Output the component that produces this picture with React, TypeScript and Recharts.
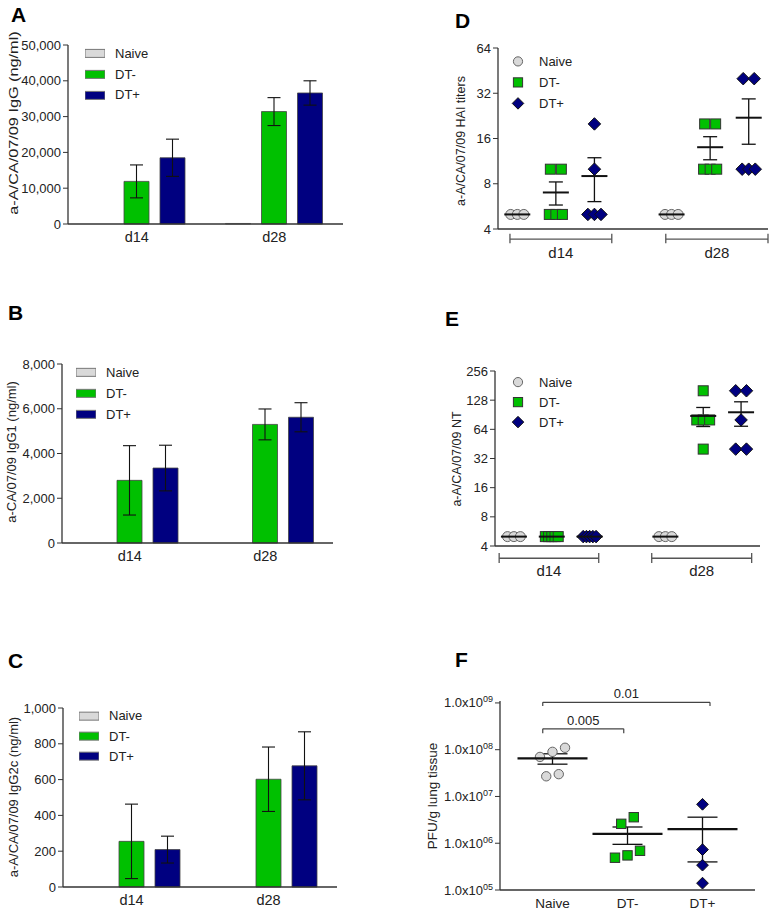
import React from 'react';
import {
  BarChart, Bar, ErrorBar, XAxis, YAxis, Legend,
  ScatterChart, Scatter, ReferenceLine,
} from 'recharts';

const FONT = '"Liberation Sans", Arial, Helvetica, sans-serif';
const INK = '#222';
const AXIS = '#333';
const GREY = '#D9D9D9';
const GREEN = '#00C000';
const NAVY = '#000080';

// ---- shared categories ----
const days = ['d14', 'd28'];
const groupNames = ['Naive', 'DT-', 'DT+'];

// ---- A: anti-A/CA/07/09 IgG (ng/ml), mean and SEM per day ----
const iggNaive = [0, 150];
const iggDTneg = [11900, 31400];
const iggDTnegSem = [4600, 3900];
const iggDTpos = [18500, 36600];
const iggDTposSem = [5200, 3400];
const iggTicks = [0, 10000, 20000, 30000, 40000, 50000];

// ---- B: IgG1 ----
const igg1Naive = [0, 0];
const igg1DTneg = [2800, 5300];
const igg1DTnegSem = [1550, 690];
const igg1DTpos = [3350, 5620];
const igg1DTposSem = [1020, 650];
const igg1Ticks = [0, 2000, 4000, 6000, 8000];

// ---- C: IgG2c ----
const igg2cNaive = [0, 0];
const igg2cDTneg = [255, 602];
const igg2cDTnegSem = [208, 180];
const igg2cDTpos = [209, 677];
const igg2cDTposSem = [75, 190];
const igg2cTicks = [0, 200, 400, 600, 800, 1000];

// ---- D: HAI titers, one value per mouse ----
const haiNaiveD14 = [5, 5, 5];
const haiNaiveD28 = [5, 5, 5];
const haiDTnegD14 = [10, 10, 5, 5, 5];
const haiDTnegD28 = [20, 20, 10, 10, 10];
const haiDTposD14 = [20, 10, 5, 5, 5];
const haiDTposD28 = [40, 40, 10, 10, 10];
const haiTicks = [4, 8, 16, 32, 64];

// ---- E: neutralising titers ----
const ntNaiveD14 = [5, 5, 5];
const ntNaiveD28 = [5, 5, 5];
const ntDTnegD14 = [5, 5, 5, 5, 5];
const ntDTnegD28 = [160, 80, 80, 80, 40];
const ntDTposD14 = [5, 5, 5, 5, 5];
const ntDTposD28 = [160, 160, 80, 40, 40];
const ntTicks = [4, 8, 16, 32, 64, 128, 256];

// ---- F: lung virus, PFU/g ----
const pfuNaive = [9.0e7, 7.0e7, 1.1e8, 2.7e7, 3.0e7];
const pfuDTneg = [3.6e6, 2.6e6, 6.9e5, 4.9e5, 5.5e5];
const pfuDTpos = [6.8e6, 7.3e5, 3.4e5, 1.4e5];
const pfuTicks = [1e5, 1e6, 1e7, 1e8, 1e9];
const pValues = ['0.005', '0.01'];

type Kind = 'swatch' | 'circle' | 'square' | 'diamond';
const fills = [GREY, GREEN, NAVY];
const strokes = ['#666', '#333', '#111'];
const dotKinds: Kind[] = ['circle', 'square', 'diamond'];

const axisLine = { stroke: AXIS, strokeWidth: 1.3 };
const tickText = { fontSize: 13, fill: INK };

const mean = (v: number[]) => v.reduce((a, b) => a + b, 0) / v.length;
const sem = (v: number[]) => {
  const m = mean(v);
  const sd = Math.sqrt(v.reduce((a, b) => a + (b - m) ** 2, 0) / (v.length - 1));
  return sd / Math.sqrt(v.length);
};
const thousands = (v: number) => v.toLocaleString('en-US');

// dot-plot layout: values that sit (nearly) on top of each other are pushed sideways
function spread(values: number[], center: number, step: number, span: number, tol: number) {
  const order = values.map((_, i) => i).sort((a, b) => values[a] - values[b]);
  const out: { x: number; y: number }[] = new Array(values.length);
  let cluster: number[] = [];
  const flush = () => {
    const n = cluster.length;
    const s = n > 1 ? Math.min(step, span / (n - 1)) : 0;
    cluster.forEach((i, k) => { out[i] = { x: center + (k - (n - 1) / 2) * s, y: values[i] }; });
    cluster = [];
  };
  order.forEach(i => {
    if (cluster.length && Math.abs(Math.log(values[i] / values[cluster[cluster.length - 1]])) > tol) flush();
    cluster.push(i);
  });
  flush();
  return out;
}

function mark(kind: Kind, cx: number, cy: number, r: number, g: number) {
  const fill = fills[g];
  const stroke = strokes[g];
  if (kind === 'swatch') return <rect x={cx - 10} y={cy - 4} width={20} height={8} fill={fill} stroke="#777" strokeWidth={1} />;
  if (kind === 'circle') return <circle cx={cx} cy={cy} r={r} fill={fill} stroke={stroke} strokeWidth={1} />;
  if (kind === 'square') return <rect x={cx - r} y={cy - r} width={2 * r} height={2 * r} fill={fill} stroke={stroke} strokeWidth={1} />;
  const d = r * 1.25;
  return <path d={`M${cx},${cy - d}L${cx + d},${cy}L${cx},${cy + d}L${cx - d},${cy}Z`} fill={fill} stroke={stroke} strokeWidth={1} />;
}

const legendContent = (kind: (g: number) => Kind, markW: number, gap: number, rowH: number) => (props: any) => {
  const entries = (props.payload || [])
    .map((e: any) => ({ name: e.value, g: groupNames.indexOf(e.value) }))
    .filter((e: any) => e.g >= 0)
    .sort((a: any, b: any) => a.g - b.g);
  return (
    <div style={{ fontFamily: FONT }}>
      {entries.map((e: any) => (
        <div key={e.name} style={{ display: 'flex', alignItems: 'center', height: rowH }}>
          <svg width={markW} height={rowH} style={{ display: 'block' }}>{mark(kind(e.g), markW / 2, rowH / 2, 4.6, e.g)}</svg>
          <span style={{ marginLeft: gap, fontSize: 13, color: INK, lineHeight: 1 }}>{e.name}</span>
        </div>
      ))}
    </div>
  );
};

interface Margin { top: number; right: number; bottom: number; left: number }

interface BarPanelProps {
  width: number; height: number; margin: Margin; yWidth: number; xHeight: number;
  naive: number[]; dtNeg: number[]; dtNegSem: number[]; dtPos: number[]; dtPosSem: number[];
  ticks: number[]; legendTop: number; legendLeft: number; rowH: number;
}

const BarPanel: React.FC<BarPanelProps> = (p) => {
  const rows = days.map((day, i) => ({
    day, naive: p.naive[i], dtNeg: p.dtNeg[i], dtNegSem: p.dtNegSem[i], dtPos: p.dtPos[i], dtPosSem: p.dtPosSem[i],
  }));
  return (
    <BarChart width={p.width} height={p.height} data={rows} margin={p.margin} barSize={25} barGap={11}>
      <XAxis dataKey="day" height={p.xHeight} tickLine={false} axisLine={axisLine} tick={{ fontSize: 14.5, fill: INK }} />
      <YAxis width={p.yWidth} domain={[0, p.ticks[p.ticks.length - 1]]} ticks={p.ticks} interval={0}
        tickFormatter={thousands} tickSize={5} tickMargin={2} tick={tickText} tickLine={{ stroke: AXIS }} axisLine={axisLine} />
      <Legend layout="vertical" align="center" verticalAlign="middle"
        wrapperStyle={{ top: p.legendTop, left: p.legendLeft, width: 90 }}
        content={legendContent(() => 'swatch', 20, 10, p.rowH)} />
      <Bar dataKey="naive" name="Naive" fill={GREY} stroke="#777" strokeWidth={0.8} isAnimationActive={false} />
      <Bar dataKey="dtNeg" name="DT-" fill={GREEN} stroke="#444" strokeWidth={0.8} isAnimationActive={false}>
        <ErrorBar dataKey="dtNegSem" width={6.5} stroke="#111" strokeWidth={1.1} isAnimationActive={false} />
      </Bar>
      <Bar dataKey="dtPos" name="DT+" fill={NAVY} stroke="#444" strokeWidth={0.8} isAnimationActive={false}>
        <ErrorBar dataKey="dtPosSem" width={6.5} stroke="#111" strokeWidth={1.1} isAnimationActive={false} />
      </Bar>
    </BarChart>
  );
};

const slot = (d: number, g: number) => d * (groupNames.length + 1) + g + 1;

interface DayDotPanelProps {
  width: number; height: number; margin: Margin; yWidth: number;
  groups: number[][][]; ticks: number[];
  brackets: number[][]; bracketY: number[]; labelOffset: number;
  legendTop: number; legendLeft: number; rowH: number;
}

const DayDotPanel: React.FC<DayDotPanelProps> = (p) => {
  const series = groupNames.map((name, g) => ({
    name,
    points: days.flatMap((_, d) => spread(p.groups[g][d], slot(d, g), 0.285, 0.34, 0.01)),
  }));
  const means = groupNames.flatMap((_, g) => days.map((_, d) => ({
    x: slot(d, g), y: mean(p.groups[g][d]), sem: sem(p.groups[g][d]),
  })));
  const [lineY, capHi, capLo] = p.bracketY;
  const br = { stroke: '#555', strokeWidth: 1.3, ifOverflow: 'visible' as const };
  return (
    <ScatterChart width={p.width} height={p.height} margin={p.margin}>
      <XAxis type="number" dataKey="x" domain={[0.5, 7.5]} tick={false} tickLine={false} axisLine={axisLine} height={30} />
      <YAxis type="number" dataKey="y" scale="log" domain={[p.ticks[0], p.ticks[p.ticks.length - 1]]} ticks={p.ticks}
        interval={0} width={p.yWidth} tickSize={5} tickMargin={2} tick={tickText} tickLine={{ stroke: AXIS }} axisLine={axisLine} />
      <Legend layout="vertical" align="center" verticalAlign="middle"
        wrapperStyle={{ top: p.legendTop, left: p.legendLeft, width: 90 }}
        content={legendContent(g => dotKinds[g], 14, 14, p.rowH)} />
      {series.map((s, g) => (
        <Scatter key={s.name} name={s.name} data={s.points} fill={fills[g]} isAnimationActive={false}
          shape={(pt: any) => mark(dotKinds[g], pt.cx, pt.cy, 5, g)} />
      ))}
      <Scatter name="mean" legendType="none" data={means} fill="#111" isAnimationActive={false}
        shape={(pt: any) => <line x1={pt.cx - 13} x2={pt.cx + 13} y1={pt.cy} y2={pt.cy} stroke="#111" strokeWidth={2} />}>
        <ErrorBar dataKey="sem" direction="y" width={7} stroke="#111" strokeWidth={1.3} isAnimationActive={false} />
      </Scatter>
      {p.brackets.map(([x1, x2], d) => (
        <React.Fragment key={days[d]}>
          <ReferenceLine segment={[{ x: x1, y: lineY }, { x: x2, y: lineY }]} {...br}
            label={{ value: days[d], position: 'bottom', offset: p.labelOffset, fontSize: 15, fill: INK }} />
          <ReferenceLine segment={[{ x: x1, y: capHi }, { x: x1, y: capLo }]} {...br} />
          <ReferenceLine segment={[{ x: x2, y: capHi }, { x: x2, y: capLo }]} {...br} />
        </React.Fragment>
      ))}
    </ScatterChart>
  );
};

const SciTick = (props: any) => {
  const { x, y, payload } = props;
  const exp = Math.round(Math.log10(payload.value));
  const mant = (payload.value / 10 ** exp).toFixed(1);
  return (
    <text x={x} y={y} dy={4.5} textAnchor="end" fontSize={13} fill={INK}>
      {mant}x10<tspan dy={-5} fontSize={9}>{String(exp).padStart(2, '0')}</tspan>
    </text>
  );
};

// significance brackets: [from, to] on the group axis, bar height, end drop
const pSpans = [[0.87, 1.95], [0.87, 3.1]];
const pLevels = [[2.8e8, 2.26e8], [1.03e9, 8.6e8]];

const LungPanel: React.FC = () => {
  const lung = [pfuNaive, pfuDTneg, pfuDTpos];
  const series = groupNames.map((name, g) => ({ name, points: spread(lung[g], g + 1, 0.167, 0.34, 0.35) }));
  const means = lung.map((v, g) => ({ x: g + 1, y: mean(v), sem: sem(v) }));
  const br = { stroke: '#444', strokeWidth: 1.2, ifOverflow: 'visible' as const };
  return (
    <ScatterChart width={374} height={333} margin={{ top: 121, right: 19, bottom: 0, left: 0 }}>
      <XAxis type="number" dataKey="x" domain={[0.3, 3.7]} ticks={[1, 2, 3]} interval={0} height={23}
        tickFormatter={(v: number) => groupNames[v - 1]} tickLine={false} axisLine={axisLine} tick={{ fontSize: 13.5, fill: INK }} />
      <YAxis type="number" dataKey="y" scale="log" domain={[1e5, 1.1e9]} ticks={pfuTicks} interval={0} width={100}
        tickSize={5} tickMargin={2} tick={<SciTick />} tickLine={{ stroke: AXIS }} axisLine={axisLine} />
      {series.map((s, g) => (
        <Scatter key={s.name} name={s.name} data={s.points} fill={fills[g]} isAnimationActive={false}
          shape={(pt: any) => mark(dotKinds[g], pt.cx, pt.cy, 4.7, g)} />
      ))}
      <Scatter name="mean" legendType="none" data={means} fill="#111" isAnimationActive={false}
        shape={(pt: any) => <line x1={pt.cx - 35} x2={pt.cx + 35} y1={pt.cy} y2={pt.cy} stroke="#111" strokeWidth={2.2} />}>
        <ErrorBar dataKey="sem" direction="y" width={15} stroke="#111" strokeWidth={1.3} isAnimationActive={false} />
      </Scatter>
      {pSpans.map(([x1, x2], i) => (
        <React.Fragment key={pValues[i]}>
          <ReferenceLine segment={[{ x: x1, y: pLevels[i][0] }, { x: x2, y: pLevels[i][0] }]} {...br}
            label={{ value: pValues[i], position: 'top', offset: 4, fontSize: 13, fill: INK }} />
          <ReferenceLine segment={[{ x: x1, y: pLevels[i][0] }, { x: x1, y: pLevels[i][1] }]} {...br} />
          <ReferenceLine segment={[{ x: x2, y: pLevels[i][0] }, { x: x2, y: pLevels[i][1] }]} {...br} />
        </React.Fragment>
      ))}
    </ScatterChart>
  );
};

const letters = [
  { t: 'A', x: 11, y: 4 }, { t: 'B', x: 8, y: 302 }, { t: 'C', x: 8, y: 650 },
  { t: 'D', x: 455, y: 10 }, { t: 'E', x: 445, y: 308 }, { t: 'F', x: 455, y: 649 },
];

const yTitles = [
  { t: 'a-A/CA/07/09 IgG (ng/ml)', x: 14, y: 123, k: 1.3 },
  { t: 'a-CA/07/09 IgG1 (ng/ml)', x: 12, y: 452, k: 1.04 },
  { t: 'a-A/CA/07/09 IgG2c (ng/ml)', x: 14, y: 797, k: 1.04 },
  { t: 'a-A/CA/07/09 HAI titers', x: 461, y: 141, k: 1.0 },
  { t: 'a-A/CA/07/09 NT', x: 457, y: 459, k: 1.0 },
  { t: 'PFU/g lung tissue', x: 433, y: 796, k: 1.08 },
];

const at = (left: number, top: number): React.CSSProperties => ({ position: 'absolute', left, top });

export default function App() {
  return (
    <div style={{ position: 'absolute', left: 0, top: 0, width: 774, height: 913, background: '#fff', fontFamily: FONT, color: INK, overflow: 'hidden' }}>
      <div style={at(0, 0)}>
        <BarPanel width={360} height={260} margin={{ top: 45, right: 17, bottom: 6, left: 0 }} yWidth={68} xHeight={30}
          naive={iggNaive} dtNeg={iggDTneg} dtNegSem={iggDTnegSem} dtPos={iggDTpos} dtPosSem={iggDTposSem}
          ticks={iggTicks} legendTop={43} legendLeft={85} rowH={20.8} />
      </div>
      <div style={at(0, 280)}>
        <BarPanel width={360} height={290} margin={{ top: 84, right: 27, bottom: 1, left: 0 }} yWidth={62} xHeight={26}
          naive={igg1Naive} dtNeg={igg1DTneg} dtNegSem={igg1DTnegSem} dtPos={igg1DTpos} dtPosSem={igg1DTposSem}
          ticks={igg1Ticks} legendTop={82.3} legendLeft={76} rowH={20.7} />
      </div>
      <div style={at(0, 580)}>
        <BarPanel width={360} height={333} margin={{ top: 128, right: 23, bottom: 0, left: 0 }} yWidth={63} xHeight={26}
          naive={igg2cNaive} dtNeg={igg2cDTneg} dtNegSem={igg2cDTnegSem} dtPos={igg2cDTpos} dtPosSem={igg2cDTposSem}
          ticks={igg2cTicks} legendTop={125.8} legendLeft={79} rowH={20.3} />
      </div>
      <div style={at(400, 0)}>
        <DayDotPanel width={374} height={280} margin={{ top: 48, right: 6, bottom: 21, left: 0 }} yWidth={98}
          groups={[[haiNaiveD14, haiNaiveD28], [haiDTnegD14, haiDTnegD28], [haiDTposD14, haiDTposD28]]}
          ticks={haiTicks} brackets={[[0.81, 3.45], [4.85, 7.5]]} bracketY={[3.43, 3.72, 3.21]} labelOffset={8}
          legendTop={51.3} legendLeft={111} rowH={20.8} />
      </div>
      <div style={at(400, 290)}>
        <DayDotPanel width={374} height={290} margin={{ top: 81, right: 14, bottom: 4, left: 0 }} yWidth={95}
          groups={[[ntNaiveD14, ntNaiveD28], [ntDTnegD14, ntDTnegD28], [ntDTposD14, ntDTposD28]]}
          ticks={ntTicks} brackets={[[0.61, 3.24], [4.64, 7.28]]} bracketY={[2.99, 3.39, 2.67]} labelOffset={7.5}
          legendTop={82.1} legendLeft={111} rowH={20.2} />
      </div>
      <div style={at(400, 580)}>
        <LungPanel />
      </div>
      {letters.map(l => (
        <div key={l.t} style={{ ...at(l.x, l.y), fontSize: 21, fontWeight: 'bold', lineHeight: 1, color: '#000' }}>{l.t}</div>
      ))}
      {yTitles.map(t => (
        <div key={t.t} style={{
          ...at(t.x, t.y), fontSize: 12.5, lineHeight: 1, whiteSpace: 'nowrap',
          transform: `translate(-50%, -50%) rotate(-90deg) scaleX(${t.k})`,
        }}>{t.t}</div>
      ))}
    </div>
  );
}
